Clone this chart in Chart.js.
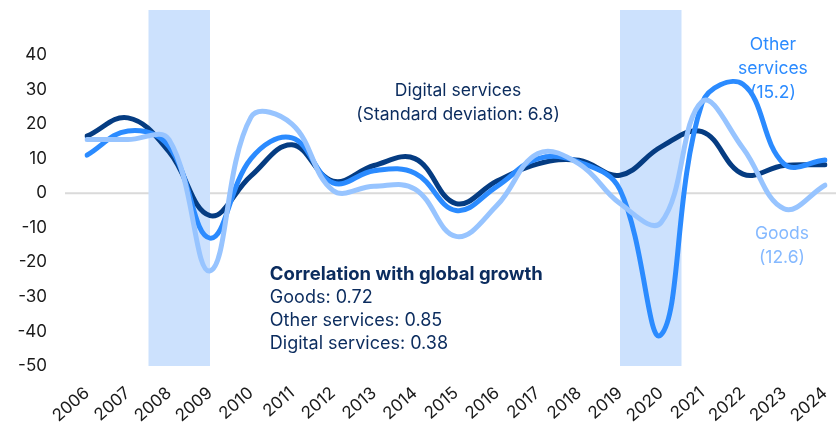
<!DOCTYPE html>
<html>
<head>
<meta charset="utf-8">
<script src="https://cdn.jsdelivr.net/npm/chart.js@4"></script>
<style>
  html, body { margin: 0; padding: 0; background: #fff; }
  #wrap { width: 836px; height: 425px; }
</style>
</head>
<body>
<div id="wrap"><canvas id="growthChart" width="836" height="425"></canvas></div>
<script>
// data
const years = ['2006','2007','2008','2009','2010','2011','2012','2013','2014','2015','2016','2017','2018','2019','2020','2021','2022','2023','2024'];
const goods = [15.5, 15.5, 15.5, -22.5, 22, 20, 0.8, 2, 1.2, -12.5, -3.5, 11.5, 8.5, -3, -8.5, 26.5, 13, -4.5, 2.3];
const otherServices = [11, 18, 13.5, -13, 10, 16, 3, 6.5, 5.8, -5, 2, 10, 9, 1, -41, 26, 31.5, 8.5, 9.6];
const digitalServices = [16.5, 21.8, 12, -6.5, 5, 14, 3.5, 8, 10, -3, 3.5, 8.5, 9.5, 5.2, 13.4, 17.8, 5.5, 8, 8.2];
const yTicks = [-50, -40, -30, -20, -10, 0, 10, 20, 30, 40];
const bands = [[2007.5, 2009], [2019, 2020.5]];   // shaded periods (years)
const corrLines = ['Goods: 0.72', 'Other services: 0.85', 'Digital services: 0.38'];

const NAVY = '#0b2c5e';
const FONT = 'Inter, "Liberation Sans", Arial, sans-serif';
Chart.defaults.font.family = FONT;

// zero line + shaded bands under the lines
const backdrop = {
    id: 'backdrop',
    beforeDatasetsDraw(chart) {
        const { ctx, chartArea: a, scales: { x, y } } = chart;
        ctx.save();
        const y0 = y.getPixelForValue(0);
        ctx.strokeStyle = '#dadada'; ctx.lineWidth = 2;
        ctx.beginPath(); ctx.moveTo(65, y0); ctx.lineTo(chart.width, y0); ctx.stroke();
        ctx.fillStyle = '#cce1fd';
        bands.forEach(b => {
            const x1 = x.getPixelForValue(b[0] - 2006), x2 = x.getPixelForValue(b[1] - 2006);
            ctx.fillRect(x1, a.top, x2 - x1, a.bottom - a.top);
        });
        ctx.restore();
    }
};

// text notes
const notes = {
    id: 'notes',
    afterDatasetsDraw(chart) {
        const { ctx, scales: { x, y } } = chart;
        ctx.save();
        ctx.textBaseline = 'middle';
        ctx.font = '17.5px ' + FONT;

        ctx.textAlign = 'center';
        ctx.fillStyle = NAVY;
        let cx = x.getPixelForValue(9.05), cy = y.getPixelForValue(29.6);
        ctx.fillText('Digital services', cx, cy);
        ctx.fillText('(Standard deviation: 6.8)', cx, cy + 24);

        ctx.fillStyle = '#2b8bff';
        cx = x.getPixelForValue(16.73); cy = y.getPixelForValue(43);
        ctx.fillText('Other', cx, cy);
        ctx.fillText('services', cx, cy + 24);
        ctx.fillText('(15.2)', cx, cy + 48);

        ctx.fillStyle = '#85b9ff';
        cx = x.getPixelForValue(16.95); cy = y.getPixelForValue(-11.6);
        ctx.fillText('Goods', cx, cy);
        ctx.fillText('(12.6)', cx, cy + 24);

        ctx.textAlign = 'left';
        ctx.fillStyle = NAVY;
        cx = x.getPixelForValue(4.46); cy = y.getPixelForValue(-23.6);
        ctx.font = 'bold 18.5px ' + FONT;
        ctx.fillText('Correlation with global growth', cx, cy);
        ctx.font = '18px ' + FONT;
        corrLines.forEach((t, i) => ctx.fillText(t, cx, cy + 23 * (i + 1)));
        ctx.restore();
    }
};

const line = (label, data, color) => ({
    label, data, borderColor: color, borderWidth: 5, pointRadius: 0,
    tension: 0.4, fill: false, borderCapStyle: 'round', borderJoinStyle: 'round'
});

// fixed axis box so the plot area lands where the reference has it
const fixBox = (w, h) => s => {
    if (w) s.width = w;
    if (h) s.height = h;
    s.paddingTop = s.paddingBottom = s.paddingLeft = s.paddingRight = 0;
};

new Chart(document.getElementById('growthChart'), {
    type: 'line',
    data: {
        labels: years,
        datasets: [
            line('Goods', goods, '#97c4ff'),
            line('Other services', otherServices, '#2b8bff'),
            line('Digital services', digitalServices, '#053c82')
        ]
    },
    options: {
        responsive: false,
        animation: false,
        devicePixelRatio: 1,
        layout: { padding: { top: 10, right: 11, left: 0, bottom: 0 } },
        plugins: { legend: { display: false }, tooltip: { enabled: false } },
        scales: {
            x: {
                grid: { display: false, drawTicks: false },
                border: { display: false },
                ticks: { color: '#1a1a1a', font: { size: 17 }, minRotation: 41, maxRotation: 41, padding: 17, autoSkip: false },
                afterFit: fixBox(0, 59)
            },
            y: {
                min: -50, max: 53,
                grid: { display: false, drawTicks: false },
                border: { display: false },
                ticks: { color: '#1a1a1a', font: { size: 17 }, padding: 40 },
                afterBuildTicks: s => { s.ticks = yTicks.map(v => ({ value: v })); },
                afterFit: fixBox(87, 0)
            }
        }
    },
    plugins: [backdrop, notes]
});
</script>
</body>
</html>
